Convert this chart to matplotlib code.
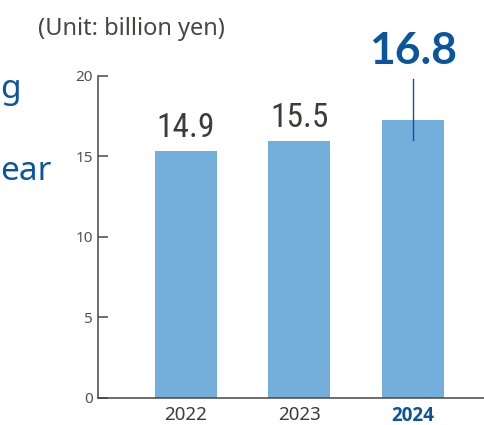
import os
import matplotlib
matplotlib.use("Agg")
import matplotlib.pyplot as plt
from matplotlib import font_manager

# 数据
years = ["2022", "2023", "2024"]
values = ["14.9", "15.5", "16.8"]          # 柱顶标签
bar_heights = [15.35, 15.95, 17.25]        # 图中柱子实际高度
y_ticks = [0, 5, 10, 15, 20]

bar_color = "#74afdc"
blue = "#0b559f"
dark = "#3f3b36"
axis_color = "#4a4540"


def pick_font(candidates, weight="normal", stretch="normal", need=None, avoid=None):
    """按顺序找第一个已安装的字体, need/avoid为文件名中须包含/不能包含的关键字"""
    for fam in candidates:
        try:
            path = font_manager.findfont(
                font_manager.FontProperties(family=fam, weight=weight, stretch=stretch),
                fallback_to_default=False)
        except Exception:
            continue
        name = os.path.basename(path).lower()
        if need and not any(k in name for k in need):
            continue
        if avoid and any(k in name for k in avoid):
            continue
        return fam
    return None


no_cond = ["condensed", "narrow", "semicond", "extracond"]
sans = pick_font(["Noto Sans", "Open Sans"], avoid=no_cond) or "DejaVu Sans"
sans_bold = pick_font(["Noto Sans", "Open Sans", "Roboto", "Lato"], weight="bold",
                      need=["bold"], avoid=no_cond) or "DejaVu Sans"
narrow = pick_font(["Roboto Condensed", "Liberation Sans Narrow", "Open Sans Condensed",
                    "Noto Sans", "DejaVu Sans"], stretch="condensed",
                   need=["condensed", "narrow"])
narrow_ok = narrow is not None
if not narrow_ok:
    narrow = sans
big_bold = pick_font(["Lato", "Roboto", "Open Sans"], weight="bold", need=["bold"],
                     avoid=no_cond) or "DejaVu Sans"

fig = plt.figure(figsize=(4.84, 4.25), dpi=100)
ax = fig.add_axes([0.203, 0.0642, 0.797, 0.757])

x = list(range(len(years)))
ax.bar(x, bar_heights, width=0.546, color=bar_color, zorder=2)

ax.set_xlim(-0.773, 2.626)
ax.set_ylim(0, 20)
ax.set_yticks(y_ticks)
ax.set_xticks(x)
ax.set_xticklabels(years)

for s in ["top", "right"]:
    ax.spines[s].set_visible(False)
for s in ["left", "bottom"]:
    ax.spines[s].set_color(axis_color)
    ax.spines[s].set_linewidth(1.1)

ax.tick_params(axis="y", direction="in", length=7.2, width=1.1, color=axis_color,
               pad=4, labelsize=11, labelcolor="#55524d")
ax.tick_params(axis="x", length=0, pad=6, labelsize=13.5, labelcolor=dark)
for lab in ax.get_yticklabels():
    lab.set_family([sans, "DejaVu Sans"])
for i, lab in enumerate(ax.get_xticklabels()):
    lab.set_family([sans, "DejaVu Sans"])
    if i == len(years) - 1:
        lab.set_family([sans_bold, "DejaVu Sans"])
        lab.set_color(blue)
        lab.set_fontweight("bold")

# 柱顶数值
for i in x[:-1]:
    ax.annotate(values[i], (i, bar_heights[i]), xytext=(0, 5), textcoords="offset points",
                ha="center", va="bottom", fontsize=24 if narrow_ok else 19,
                family=[narrow, "DejaVu Sans"], fontstretch="condensed", color=dark,
                annotation_clip=False)

# 最新年份: 引线 + 大号蓝色数字
last = x[-1]
h = bar_heights[-1]
ax.plot([last, last], [h - 1.2, h + 2.55], color=blue, lw=1.0, zorder=3, clip_on=False)
ax.annotate(values[-1], (last, h + 2.55), xytext=(0, 6), textcoords="offset points",
            ha="center", va="bottom", fontsize=32, fontweight="bold",
            family=[big_bold, "DejaVu Sans"], color=blue, annotation_clip=False)

# 单位
fig.text(131 / 484, 1 - 29 / 425, "(Unit: billion yen)", ha="center", va="center",
         fontsize=17, family=[sans, "DejaVu Sans"], color=axis_color)

# 左侧被截断的文字
fig.text(0.0, 1 - 98 / 425, "g", ha="left", va="baseline", fontsize=24,
         family=[sans, "DejaVu Sans"], color=blue)
fig.text(0.0, 1 - 180 / 425, "ear", ha="left", va="baseline", fontsize=24,
         family=[sans, "DejaVu Sans"], color=blue)

fig.savefig("out.png", dpi=100)
